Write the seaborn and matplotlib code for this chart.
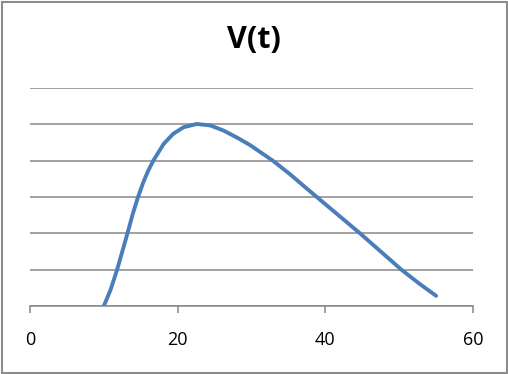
import pandas as pd
import seaborn as sns
import matplotlib.pyplot as plt
from matplotlib.patches import Rectangle

# values
t = [10, 10.9, 11.8, 12.5, 13.2, 13.9, 14.6, 15.3, 16.0, 16.7, 18.1, 19.4, 20.8,
     22.6, 24.4, 26.2, 28.0, 29.8, 32.95, 35.2, 37.5, 40.6, 44.7, 47.5, 50.3,
     52.7, 55]
v = [0, 0.44, 1.0, 1.5, 2.0, 2.52, 2.98, 3.38, 3.72, 4.0, 4.46, 4.74, 4.92,
     5.01, 4.97, 4.83, 4.64, 4.43, 3.99, 3.63, 3.23, 2.70, 2.0, 1.5, 1.0,
     0.62, 0.28]
xticks = [0, 20, 40, 60]
yticks = [0, 1, 2, 3, 4, 5, 6]

df = pd.DataFrame({"t": t, "V": v})

sns.set_style("white")
plt.rcParams['font.family'] = ['Open Sans', 'DejaVu Sans']

fig = plt.figure(figsize=(5.08, 3.74), dpi=100)
ax = fig.add_axes([30 / 508, 68 / 374, 443 / 508, 218 / 374])

sns.lineplot(data=df, x="t", y="V", ax=ax, color="#4A7EBB", linewidth=2.8,
             solid_capstyle="round", solid_joinstyle="round")

ax.set_xlim(0, 60)
ax.set_ylim(0, 6)
ax.set_xticks(xticks)
ax.set_yticks(yticks)
ax.set_yticklabels([])
ax.yaxis.grid(True, color="#878787", linewidth=1.1)
ax.xaxis.grid(False)
ax.set_axisbelow(True)
for s in ["top", "right", "left"]:
    ax.spines[s].set_visible(False)
ax.spines["bottom"].set_color("#878787")
ax.spines["bottom"].set_linewidth(1.1)
ax.tick_params(axis="x", direction="out", length=5, width=1.1, color="#878787",
               labelsize=13, labelcolor="black", pad=13, bottom=True)
ax.tick_params(axis="y", length=0)
ax.set_xlabel("")
ax.set_ylabel("")

fig.text(254 / 508, (374 - 48) / 374, "V(t)", ha="center", va="baseline",
         fontsize=22, fontweight="bold", color="black")

fig.patches.append(Rectangle((1.5 / 508, 1.5 / 374), 505 / 508, 371 / 374,
                             transform=fig.transFigure, fill=False,
                             edgecolor="#8c8c8c", linewidth=1.5))

fig.savefig("out.png", dpi=100)
